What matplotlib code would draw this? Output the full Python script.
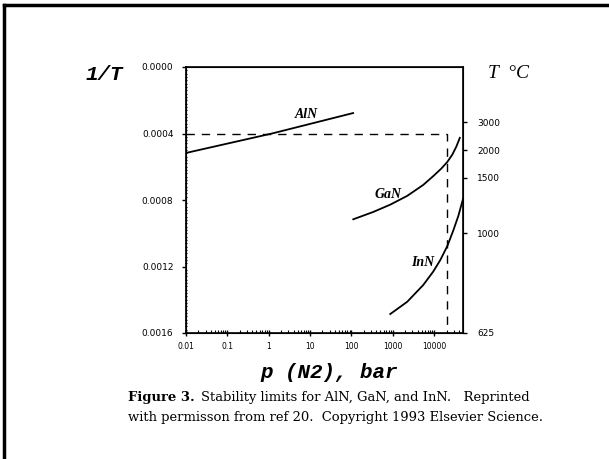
import numpy as np
import matplotlib
matplotlib.use("Agg")
import matplotlib.pyplot as plt
from matplotlib.lines import Line2D
from matplotlib.ticker import FixedLocator, MultipleLocator, LogLocator, NullFormatter

# ---- data ----
p_aln = [0.01, 1.2, 110]
inv_aln = [0.000517, 0.000400, 0.000277]

p_gan = [111, 337, 870, 2244, 5477, 9563, 14940, 20870, 27590, 34470, 41920]
inv_gan = [0.000916, 0.000872, 0.000828, 0.000775, 0.000709, 0.000656,
           0.000611, 0.000571, 0.000527, 0.000479, 0.000426]

p_inn = [870, 2244, 5477, 9563, 14130, 20870, 29160, 38550, 50000]
inv_inn = [0.001486, 0.001412, 0.001311, 0.001230, 0.001161, 0.001077,
           0.000983, 0.000896, 0.000794]

dash_p = 20000
dash_inv = 0.0004

x_ticks = [0.01, 0.1, 1, 10, 100, 1000, 10000]
x_ticklabels = ["0.01", "0.1", "1", "10", "100", "1000", "10000"]
y_ticks = [0.0, 0.0004, 0.0008, 0.0012, 0.0016]
t_celsius_labels = [3000, 2000, 1500, 1000, 625]

fig = plt.figure(figsize=(6.09, 4.59), dpi=100)
ax = fig.add_axes([186/609, 1-333/459, (463-186)/609, (333-67)/459])

k = "black"
ax.plot(p_aln, inv_aln, color=k, lw=1.3)
ax.plot(p_gan, inv_gan, color=k, lw=1.3)
ax.plot(p_inn, inv_inn, color=k, lw=1.3)
ax.plot([0.01, dash_p, dash_p], [dash_inv, dash_inv, 0.0016], color=k, lw=1.0,
        dashes=(6, 5))

ax.set_xscale("log")
ax.set_xlim(0.01, 50000)
ax.set_ylim(0.0016, 0.0)

ax.set_xticks(x_ticks)
ax.set_xticklabels(x_ticklabels)
ax.xaxis.set_minor_locator(LogLocator(base=10, subs=np.arange(2, 10), numticks=20))
ax.xaxis.set_minor_formatter(NullFormatter())
ax.set_yticks(y_ticks)
ax.set_yticklabels(["%.4f" % v for v in y_ticks])
ax.yaxis.set_minor_locator(MultipleLocator(0.00002))

ax.tick_params(axis="x", which="major", direction="inout", length=5, width=1,
               labelsize=5.5, pad=4)
ax.tick_params(axis="x", which="minor", direction="in", length=2.5, width=0.8)
ax.tick_params(axis="y", which="major", direction="out", length=3, width=1,
               labelsize=6.5, pad=6)
ax.tick_params(axis="y", which="minor", direction="inout", length=1.5, width=0.8)
for s in ax.spines.values():
    s.set_linewidth(1.2)

ax2 = ax.twinx()
ax2.set_ylim(0.0016, 0.0)
ax2.yaxis.set_major_locator(FixedLocator([1.0/t for t in t_celsius_labels]))
ax2.set_yticklabels([str(t) for t in t_celsius_labels])
ax2.tick_params(axis="y", direction="out", length=3, width=1, labelsize=6.5, pad=7)

# curve labels
lab_font = dict(family="Liberation Serif", weight="bold", style="italic", fontsize=10)
fig.text(306/609, 1-115/459, "AlN", ha="center", va="center", **lab_font)
fig.text(388/609, 1-194/459, "GaN", ha="center", va="center", **lab_font)
fig.text(423/609, 1-262/459, "InN", ha="center", va="center", **lab_font)

# axis titles
fig.text(104/609, 1-74/459, "1/T", ha="center", va="center",
         family="Liberation Mono", weight="bold", style="italic", fontsize=15)
fig.text(508/609, 1-74/459, "T  °C", ha="center", va="center",
         family="Liberation Serif", style="italic", fontsize=14)
fig.text(329/609, 1-372/459, "p (N2), bar", ha="center", va="center",
         family="Liberation Mono", weight="bold", style="italic", fontsize=15)

# caption
cap_font = dict(family="DejaVu Serif", fontsize=9.45)
t1 = fig.text(128/609, 1-398/459, "Figure 3.", ha="left", va="center",
              weight="bold", **cap_font)
fig.canvas.draw()
bb = t1.get_window_extent()
fig.text(bb.x1/609 + 0.011, 1-398/459,
         "Stability limits for AlN, GaN, and InN.   Reprinted",
         ha="left", va="center", **cap_font)
fig.text(128/609, 1-418/459,
         "with permisson from ref 20.  Copyright 1993 Elsevier Science.",
         ha="left", va="center", **cap_font)

# outer frame (top and left edges)
fig.add_artist(Line2D([4/609, 4/609], [0, 1-5/459], transform=fig.transFigure,
                      color=k, lw=2.5))
fig.add_artist(Line2D([4/609, 1], [1-5/459, 1-5/459], transform=fig.transFigure,
                      color=k, lw=2.5))

fig.savefig("out.png", dpi=100)
